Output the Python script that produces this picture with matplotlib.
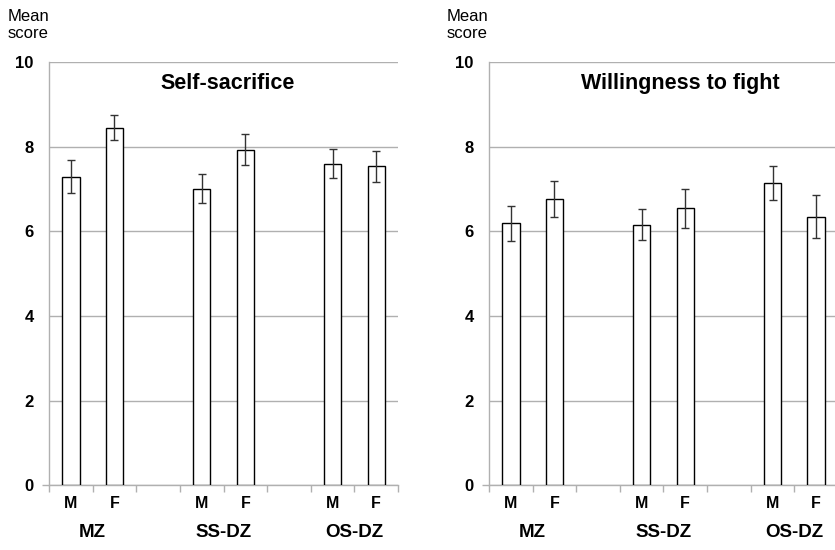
import numpy as np
import matplotlib
matplotlib.use('Agg')
import matplotlib.pyplot as plt

plt.rcParams['font.family'] = ['Liberation Sans', 'DejaVu Sans']

# slot labels along the x axis (blank slots separate the groups)
slot_labels = ['M', 'F', '', 'M', 'F', '', 'M', 'F']
groups = ['MZ', 'SS-DZ', 'OS-DZ']
bar_slots = [0, 1, 3, 4, 6, 7]

sacrifice_mean = [7.29, 8.45, 7.01, 7.93, 7.60, 7.54]
sacrifice_err = [0.39, 0.29, 0.34, 0.37, 0.35, 0.37]

fight_mean = [6.19, 6.76, 6.16, 6.54, 7.15, 6.35]
fight_err = [0.41, 0.42, 0.36, 0.46, 0.40, 0.51]

titles = ['Self-sacrifice', 'Willingness to fight']
title_x = [0.511, 0.547]

grid_col = '#b0b0b0'


def draw_panel(ax, means, errs, title, tx):
    x = np.array(bar_slots)
    ax.bar(x, means, width=0.40, color='white', edgecolor='black', linewidth=1.0, zorder=3)
    ax.errorbar(x, means, yerr=errs, fmt='none', ecolor='#333333', elinewidth=1.0,
                capsize=3, capthick=1.0, zorder=4)
    ax.set_xlim(-0.5, 7.5)
    ax.set_ylim(0, 10)
    ax.set_yticks([0, 2, 4, 6, 8, 10])
    ax.set_yticklabels(['0', '2', '4', '6', '8', '10'], fontweight='bold', fontsize=12)
    ax.tick_params(axis='y', length=0, pad=11)
    ax.yaxis.remove_overlapping_locs = False
    ax.set_yticks([0], minor=True)
    ax.tick_params(axis='y', which='minor', length=5, color=grid_col, width=1)
    ax.grid(axis='y', color=grid_col, linewidth=1.0, zorder=0)

    # tick marks at slot boundaries, labels at slot centres
    ax.set_xticks(np.arange(-0.5, 8, 1.0))
    ax.set_xticklabels([])
    ax.tick_params(axis='x', which='major', length=5, color=grid_col, width=1)
    ax.set_xticks(np.arange(0, 8), minor=True)
    ax.set_xticklabels(slot_labels, minor=True, fontweight='bold', fontsize=11.5)
    ax.tick_params(axis='x', which='minor', length=0, pad=8)

    for s in ['top', 'right']:
        ax.spines[s].set_visible(False)
    ax.spines['left'].set_color(grid_col)
    ax.spines['bottom'].set_color(grid_col)
    ax.spines['left'].set_linewidth(1.0)
    ax.spines['bottom'].set_linewidth(1.0)

    for i, g in enumerate(groups):
        ax.text(3 * i + 0.5, -1.12, g, ha='center', va='center', fontweight='bold',
                fontsize=13.5, transform=ax.transData)

    ax.text(tx, 0.95, title, transform=ax.transAxes, ha='center', va='center',
            fontweight='bold', fontsize=15.5)
    ax.text(-0.12, 1.088, 'Mean\nscore', transform=ax.transAxes, ha='left', va='center',
            fontsize=12, linespacing=1.2)


fig = plt.figure(figsize=(8.35, 5.5), dpi=100)
ax1 = fig.add_axes([0.0587, 0.118, 0.418, 0.769])
ax2 = fig.add_axes([0.5856, 0.118, 0.418, 0.769])

draw_panel(ax1, sacrifice_mean, sacrifice_err, titles[0], title_x[0])
draw_panel(ax2, fight_mean, fight_err, titles[1], title_x[1])

fig.savefig('out.png', dpi=100)
